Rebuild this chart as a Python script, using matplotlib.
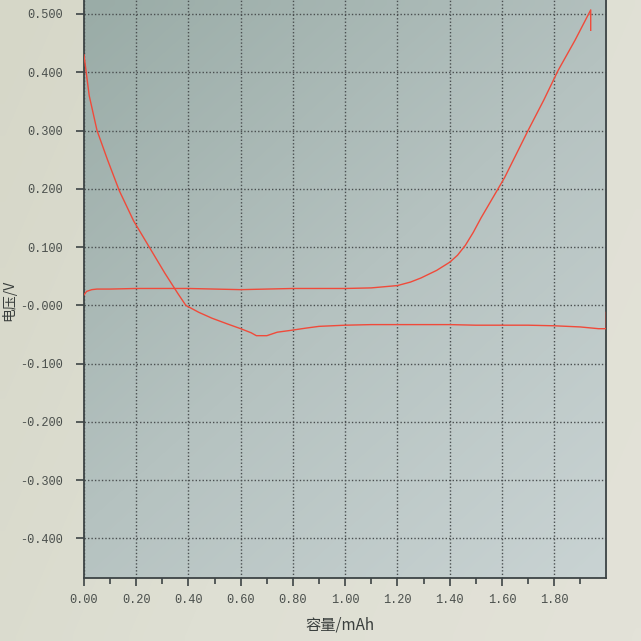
import numpy as np
import matplotlib
matplotlib.use("Agg")
import matplotlib.pyplot as plt
from matplotlib.colors import LinearSegmentedColormap

# ---- data ----
discharge_x = [0.00, 0.01, 0.02, 0.05, 0.09, 0.135, 0.19, 0.25, 0.31, 0.36, 0.39,
               0.44, 0.49, 0.55, 0.60, 0.64, 0.66, 0.70, 0.74, 0.79, 0.85, 0.90,
               1.00, 1.10, 1.20, 1.30, 1.40, 1.50, 1.60, 1.70, 1.80, 1.90, 1.97,
               2.00, 2.00]
discharge_y = [0.430, 0.395, 0.360, 0.300, 0.250, 0.197, 0.145, 0.100, 0.055, 0.020, 0.000,
               -0.012, -0.022, -0.032, -0.040, -0.047, -0.052, -0.052, -0.046, -0.043, -0.039, -0.036,
               -0.034, -0.033, -0.033, -0.033, -0.033, -0.034, -0.034, -0.034, -0.035, -0.037, -0.040,
               -0.040, -0.012]

charge_x = [0.00, 0.01, 0.03, 0.05, 0.10, 0.20, 0.40, 0.60, 0.80, 1.00, 1.10,
            1.20, 1.25, 1.29, 1.35, 1.40, 1.43, 1.46, 1.49, 1.52, 1.61, 1.70, 1.76, 1.815,
            1.88, 1.94, 1.94]
charge_y = [0.018, 0.024, 0.027, 0.028, 0.028, 0.029, 0.029, 0.027, 0.029, 0.029, 0.030,
            0.034, 0.040, 0.047, 0.060, 0.074, 0.086, 0.103, 0.125, 0.150, 0.219, 0.300, 0.352, 0.403,
            0.455, 0.507, 0.472]

x_ticks = [0.0, 0.2, 0.4, 0.6, 0.8, 1.0, 1.2, 1.4, 1.6, 1.8]
x_tick_labels = ["0.00", "0.20", "0.40", "0.60", "0.80", "1.00", "1.20", "1.40", "1.60", "1.80"]
y_ticks = [0.5, 0.4, 0.3, 0.2, 0.1, 0.0, -0.1, -0.2, -0.3, -0.4]
y_tick_labels = ["0.500", "0.400", "0.300", "0.200", "0.100", "-0.000",
                 "-0.100", "-0.200", "-0.300", "-0.400"]
x_label = "容量/mAh"
y_label = "电压/V"

# ---- figure ----
plt.rcParams['font.family'] = ['Noto Sans CJK SC', 'DejaVu Sans']
fig = plt.figure(figsize=(6.41, 6.41), dpi=100, facecolor="#dcdccf")

# figure background: photo of a screen, slightly lighter toward the right
fx, fy = np.meshgrid(np.linspace(0, 1, 64), np.linspace(0, 1, 64))
fig_bg = fig.add_axes([0, 0, 1, 1], zorder=-10)
fig_bg.imshow(fx * 0.7 + fy * 0.3, cmap=LinearSegmentedColormap.from_list(
    "fbg", ["#d6d7c8", "#dedfd3", "#e3e2d8"]), extent=[0, 1, 0, 1],
    aspect="auto", origin="upper", interpolation="bilinear")
fig_bg.axis("off")

ax = fig.add_axes([0.131, 0.099, 0.815, 0.901])

# plot-area gradient: darker top-left, lighter bottom-right
gx, gy = np.meshgrid(np.linspace(0, 1, 64), np.linspace(0, 1, 64))
grad = gx * 0.45 + gy * 0.55
cmap = LinearSegmentedColormap.from_list("bg", ["#9aaca7", "#b5c2c0", "#c9d3d3"])
ax.imshow(grad, cmap=cmap, extent=[0, 1, 0, 1], transform=ax.transAxes,
          aspect="auto", origin="upper", zorder=0, interpolation="bilinear")

ax.plot(discharge_x, discharge_y, color="#f04a3a", lw=1.0, zorder=3)
ax.plot(charge_x, charge_y, color="#f04a3a", lw=1.0, zorder=3)

ax.set_xlim(0, 2.0)
ax.set_ylim(-0.467, 0.524)

ax.set_xticks(x_ticks)
ax.set_xticklabels(x_tick_labels)
ax.set_xticks(np.arange(0.1, 2.0, 0.2), minor=True)
ax.set_yticks(y_ticks)
ax.set_yticklabels(y_tick_labels)

for lbl in ax.get_xticklabels() + ax.get_yticklabels():
    lbl.set_fontfamily("Liberation Mono")
    lbl.set_fontsize(8.6)
    lbl.set_color("#4a4f4c")

ax.tick_params(axis="y", which="major", direction="out", length=6, width=1.2,
               color="#3d4445", pad=9)
ax.tick_params(axis="x", which="major", direction="out", length=6, width=1.2,
               color="#3d4445", pad=6)
ax.tick_params(axis="x", which="minor", direction="out", length=4, width=1.2,
               color="#3d4445")

ax.grid(True, which="major", linestyle=(0, (1, 1.5)), color="#4a4f50", lw=1.0, zorder=1)

for side in ["left", "bottom", "right"]:
    ax.spines[side].set_color("#3d4445")
    ax.spines[side].set_linewidth(1.3)
ax.spines["top"].set_visible(False)

ax.set_xlabel(x_label, fontsize=11, color="#3a3f3d")
ax.xaxis.set_label_coords(0.49, -0.068)
ax.set_ylabel(y_label, fontsize=10, color="#3a3f3d")
ax.yaxis.set_label_coords(-0.13, 0.48)

fig.savefig("out.png", dpi=100, facecolor=fig.get_facecolor())
